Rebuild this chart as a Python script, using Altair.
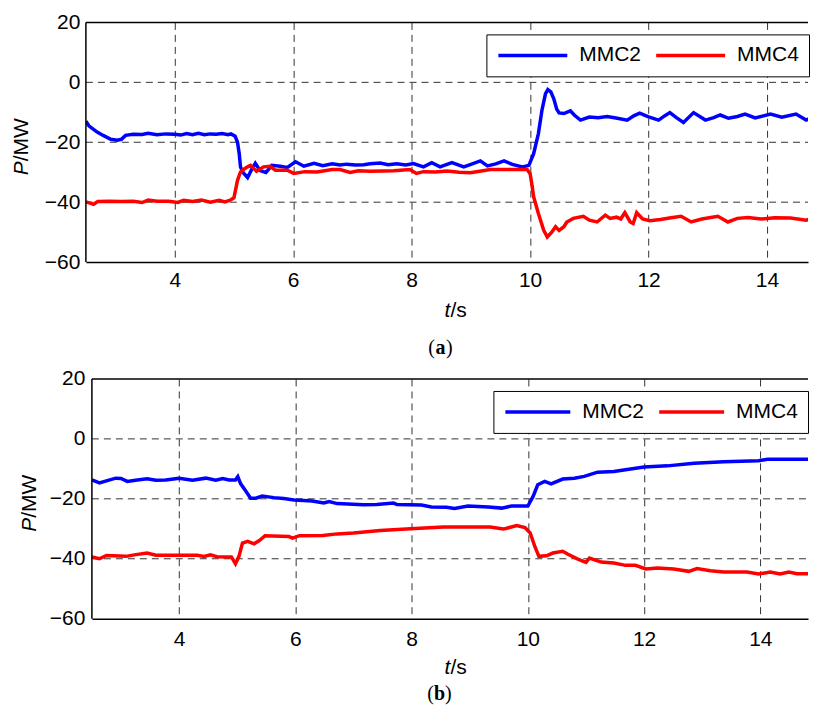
import altair as alt
import pandas as pd

# ---------------- data ----------------
# panel (a)
a_t_mmc2 = [2.5, 2.55, 2.69, 2.8, 2.92, 3.03, 3.1, 3.17, 3.3, 3.45, 3.55, 3.7, 3.85, 4.0, 4.1, 4.2, 4.3,
            4.4, 4.5, 4.6, 4.7, 4.8, 4.9, 4.95, 5.02, 5.06, 5.09, 5.11, 5.15, 5.23, 5.3, 5.36, 5.44,
            5.54, 5.64, 5.78, 5.9, 6.04, 6.18, 6.35, 6.5, 6.66, 6.79, 6.9, 7.05, 7.19, 7.3, 7.47, 7.6,
            7.75, 7.9, 8.03, 8.2, 8.34, 8.48, 8.68, 8.88, 9.0, 9.16, 9.28, 9.42, 9.56, 9.7, 9.87, 9.98,
            10.06, 10.14, 10.2, 10.26, 10.3, 10.35, 10.4, 10.45, 10.49, 10.57, 10.68, 10.75, 10.85,
            11.0, 11.15, 11.3, 11.45, 11.64, 11.75, 11.85, 12.0, 12.17, 12.27, 12.36, 12.47, 12.59,
            12.76, 12.96, 13.1, 13.21, 13.35, 13.5, 13.63, 13.8, 14.06, 14.25, 14.49, 14.66, 14.85]
a_p_mmc2 = [-13.0, -14.5, -16.6, -17.8, -19.0, -19.3, -19.0, -17.7, -17.3, -17.4, -17.0, -17.5, -17.2,
            -17.3, -17.6, -17.1, -17.5, -17.0, -17.5, -17.2, -17.3, -17.1, -17.5, -17.2, -18.0, -20.0,
            -24.0, -28.2, -30.0, -31.8, -29.0, -27.0, -29.4, -30.1, -27.7, -28.0, -28.4, -26.5, -28.0,
            -27.0, -27.8, -27.2, -27.6, -27.3, -27.6, -27.5, -27.2, -26.9, -27.5, -27.2, -27.6, -27.1,
            -28.2, -26.8, -28.2, -26.8, -28.2, -27.4, -26.2, -27.9, -27.2, -26.2, -27.4, -28.2, -27.7,
            -23.8, -17.1, -9.3, -3.8, -2.4, -3.2, -5.5, -9.0, -10.2, -10.4, -9.5, -11.0, -12.6,
            -11.6, -11.8, -11.4, -11.9, -12.6, -11.2, -10.3, -11.5, -12.6, -11.2, -10.1, -11.8, -13.4,
            -10.1, -12.6, -11.8, -10.9, -12.0, -11.4, -10.6, -11.9, -10.6, -11.6, -10.6, -12.6, -10.9]

a_t_mmc4 = [2.5, 2.57, 2.63, 2.7, 2.9, 3.1, 3.3, 3.45, 3.55, 3.7, 3.9, 4.05, 4.15, 4.3, 4.45, 4.6, 4.75,
            4.85, 4.95, 5.0, 5.06, 5.11, 5.18, 5.23, 5.28, 5.38, 5.5, 5.61, 5.7, 5.9, 6.01, 6.2, 6.4,
            6.66, 6.79, 6.96, 7.1, 7.3, 7.5, 7.7, 7.97, 8.08, 8.2, 8.4, 8.6, 8.8, 8.99, 9.15, 9.33,
            9.6, 9.95, 10.0, 10.03, 10.06, 10.14, 10.23, 10.29, 10.37, 10.43, 10.49, 10.57, 10.62,
            10.73, 10.9, 11.0, 11.13, 11.27, 11.35, 11.46, 11.53, 11.6, 11.69, 11.74, 11.8, 11.9,
            12.02, 12.2, 12.38, 12.55, 12.72, 12.9, 13.17, 13.34, 13.5, 13.68, 13.9, 14.13, 14.4,
            14.66, 14.85]
a_p_mmc4 = [-39.9, -40.3, -40.7, -39.8, -39.7, -39.8, -39.7, -40.1, -39.3, -39.7, -39.7, -40.1, -39.4,
            -39.8, -39.3, -40.0, -39.4, -39.9, -39.2, -38.5, -32.7, -29.9, -28.8, -28.2, -27.7, -29.7,
            -28.2, -28.0, -29.3, -29.3, -30.4, -29.8, -29.9, -29.1, -29.1, -30.1, -29.5, -29.7, -29.6,
            -29.5, -29.1, -30.4, -29.8, -29.9, -29.6, -30.0, -30.2, -29.7, -29.1, -29.1, -29.1, -30.5,
            -34.0, -38.2, -43.8, -49.4, -51.6, -49.9, -48.2, -49.4, -48.2, -46.6, -45.4, -44.7, -46.0,
            -46.6, -44.3, -45.4, -45.0, -45.6, -43.5, -46.6, -47.1, -43.5, -45.6, -46.2, -45.8, -45.2,
            -44.7, -46.6, -45.6, -44.7, -46.6, -45.4, -45.1, -45.6, -45.2, -45.3, -46.0, -44.9]

# panel (b)
b_t_mmc2 = [2.5, 2.63, 2.75, 2.91, 3.0, 3.11, 3.25, 3.45, 3.6, 3.77, 4.0, 4.23, 4.46, 4.63, 4.75, 4.86,
            4.97, 5.01, 5.06, 5.15, 5.23, 5.32, 5.43, 5.63, 5.8, 5.98, 6.29, 6.49, 6.58, 6.72, 6.9,
            7.17, 7.4, 7.69, 7.75, 8.17, 8.34, 8.6, 8.74, 8.97, 9.32, 9.55, 9.72, 10.0, 10.09, 10.17,
            10.29, 10.4, 10.6, 10.8, 10.97, 11.2, 11.48, 11.68, 12.0, 12.4, 12.86, 13.37, 13.97, 14.12,
            14.95]
b_p_mmc2 = [-13.7, -14.7, -14.0, -13.1, -13.2, -14.2, -13.8, -13.3, -13.8, -13.7, -13.1, -13.8, -13.1,
            -13.8, -13.2, -13.7, -13.7, -12.6, -15.0, -17.5, -19.8, -19.8, -19.1, -19.6, -19.9, -20.4,
            -20.7, -21.4, -20.9, -21.6, -21.7, -22.0, -21.9, -21.4, -21.9, -22.1, -22.7, -22.8, -23.2,
            -22.4, -22.7, -23.1, -22.4, -22.4, -19.2, -15.3, -14.2, -15.0, -13.4, -13.1, -12.5, -11.1,
            -10.9, -10.3, -9.4, -9.0, -8.1, -7.6, -7.3, -6.8, -6.8]

b_t_mmc4 = [2.5, 2.63, 2.75, 3.09, 3.23, 3.45, 3.6, 4.31, 4.43, 4.54, 4.65, 4.9, 4.97, 5.03, 5.09,
            5.18, 5.29, 5.38, 5.48, 5.89, 5.95, 6.07, 6.47, 6.72, 7.0, 7.46, 7.98, 8.55, 9.35, 9.58,
            9.81, 9.95, 10.04, 10.12, 10.19, 10.32, 10.43, 10.6, 10.69, 10.86, 11.0, 11.06, 11.26,
            11.48, 11.68, 11.85, 12.03, 12.23, 12.51, 12.77, 12.91, 13.14, 13.37, 13.77, 13.97, 14.17,
            14.34, 14.49, 14.63, 14.95]
b_p_mmc4 = [-39.4, -40.0, -38.9, -39.2, -38.7, -38.1, -38.8, -38.8, -39.2, -38.7, -39.3, -39.4, -41.7,
            -39.2, -34.8, -34.2, -35.0, -33.9, -32.3, -32.6, -33.1, -32.3, -32.2, -31.7, -31.4, -30.6,
            -30.0, -29.4, -29.4, -30.1, -28.9, -29.6, -31.4, -35.9, -39.2, -39.0, -38.1, -37.5, -38.5,
            -40.1, -41.2, -39.8, -41.1, -41.4, -42.2, -42.2, -43.4, -43.1, -43.4, -44.2, -43.3, -44.0,
            -44.4, -44.4, -45.1, -44.4, -45.1, -44.4, -45.0, -45.0]

series_names = ["MMC2", "MMC4"]
series_colors = ["#0000ff", "#ff0000"]
x_ticks = [4, 6, 8, 10, 12, 14]
y_ticks = [-60, -40, -20, 0, 20]
y_grid = [-40, -20, 0]

SANS = "Liberation Sans"
SERIF = "Liberation Serif"
FS = 21
W = 723          # panel group width (right edge of page view)
GRID = "#333333"


def panel(t2, p2, t4, p4, xmax, x_left, lab_pad_x, lab_pad_y, leg_x, leg_y, sym_size,
          ytitle_x, xtitle_x, cap, cap_x, cap_y, bottom_bound=None):
    df = pd.DataFrame({
        "t": t2 + t4,
        "P": p2 + p4,
        "series": [series_names[0]] * len(t2) + [series_names[1]] * len(t4),
    })
    grid_df = pd.DataFrame({"P": y_grid})
    one = pd.DataFrame({"k": [0]})

    x = alt.X("t:Q", scale=alt.Scale(domain=[2.5, xmax], range=[x_left, W], nice=False, zero=False),
              axis=alt.Axis(values=x_ticks, title=None, ticks=False, labelPadding=lab_pad_x,
                            labelFlush=False, domainColor="black", domainWidth=1.5,
                            grid=True))
    y = alt.Y("P:Q", scale=alt.Scale(domain=[-60, 20], nice=False, zero=False),
              axis=alt.Axis(values=y_ticks, title=None, ticks=False, labelPadding=lab_pad_y,
                            domain=False, grid=False))

    hgrid = alt.Chart(grid_df).mark_rule(color=GRID, strokeWidth=1, strokeDash=[7, 5]).encode(
        y=y, x=alt.value(x_left), x2=alt.value(W))

    lines = alt.Chart(df).mark_line(strokeWidth=3.5, clip=True).encode(
        x=x, y=y,
        color=alt.Color("series:N",
                        scale=alt.Scale(domain=series_names, range=series_colors),
                        legend=alt.Legend(title=None, orient="none", legendX=leg_x, legendY=leg_y,
                                          direction="horizontal", columns=2,
                                          symbolType="stroke", symbolSize=sym_size,
                                          symbolStrokeWidth=3.5, clipHeight=22,
                                          labelFont=SANS, labelFontSize=FS, labelColor="black",
                                          labelOffset=10, columnPadding=13, padding=10,
                                          strokeColor="black", fillColor="white",
                                          labelLimit=300)),
        order=alt.Order("t:Q"),
    )

    top_border = alt.Chart(one).mark_rule(color="black", strokeWidth=1.5).encode(
        y=alt.value(0), x=alt.value(x_left), x2=alt.value(W))
    left_border = alt.Chart(one).mark_rule(color="black", strokeWidth=1.5).encode(
        x=alt.value(x_left), y=alt.value(0), y2=alt.value(240))

    # invisible (white) anchors that fix the panel's outer bounds
    anchors = [
        alt.Chart(one).mark_rule(color="white", strokeWidth=1).encode(
            x=alt.value(-77.5), x2=alt.value(-76.5), y=alt.value(-13.5))
    ]
    if bottom_bound is not None:
        anchors.append(alt.Chart(one).mark_rule(color="white", strokeWidth=1).encode(
            x=alt.value(-77.5), x2=alt.value(-76.5), y=alt.value(bottom_bound - 0.5)))

    def txt(s, xv, yv, **kw):
        return alt.Chart(one).mark_text(text=s, color="black", **kw).encode(
            x=alt.value(xv), y=alt.value(yv))

    texts = [
        # y title  P/MW  (italic P)
        txt("P", ytitle_x, 139, angle=270, align="right", baseline="middle",
            font=SANS, fontSize=FS, fontStyle="italic"),
        txt("/MW", ytitle_x, 139, angle=270, align="left", baseline="middle",
            font=SANS, fontSize=FS),
        # x title  t/s  (italic t)
        txt("t", xtitle_x - 4, 289, align="right", baseline="middle",
            font=SANS, fontSize=FS, fontStyle="italic"),
        txt("/s", xtitle_x - 4, 289, align="left", baseline="middle",
            font=SANS, fontSize=FS),
        # caption  (a) / (b)
        txt("(", cap_x - 5.5, cap_y, align="right", baseline="middle",
            font=SERIF, fontSize=20),
        txt(cap, cap_x, cap_y, align="center", baseline="middle",
            font=SERIF, fontSize=20, fontWeight="bold"),
        txt(")", cap_x + 5.5, cap_y, align="left", baseline="middle",
            font=SERIF, fontSize=20),
    ]

    return alt.layer(hgrid, lines, top_border, left_border, *anchors, *texts).properties(
        width=W, height=240)


top = panel(a_t_mmc2, a_p_mmc2, a_t_mmc4, a_p_mmc4, xmax=2.5 + W / 59.3, x_left=0,
            lab_pad_x=7, lab_pad_y=6, leg_x=401, leg_y=12, sym_size=4761,
            ytitle_x=-63.5, xtitle_x=369, cap="a", cap_x=355, cap_y=326, bottom_bound=343)
bottom = panel(b_t_mmc2, b_p_mmc2, b_t_mmc4, b_p_mmc4, xmax=2.5 + (W - 6) / 58.2, x_left=6,
               lab_pad_x=10, lab_pad_y=1, leg_x=408, leg_y=12, sym_size=4225,
               ytitle_x=-56, xtitle_x=369, cap="b", cap_x=354, cap_y=315)

chart = alt.vconcat(top, bottom, spacing=0).resolve_scale(
    x="independent", y="independent", color="independent"
).properties(
    padding={"left": 0, "top": 0, "right": 0, "bottom": 6}
).configure_view(
    stroke=None
).configure_axis(
    labelFont=SANS, labelFontSize=FS, labelColor="black",
    gridColor=GRID, gridDash=[7, 5], gridWidth=1, gridOpacity=1,
)

chart.save("out.html", embed_options={"renderer": "svg", "actions": False})
